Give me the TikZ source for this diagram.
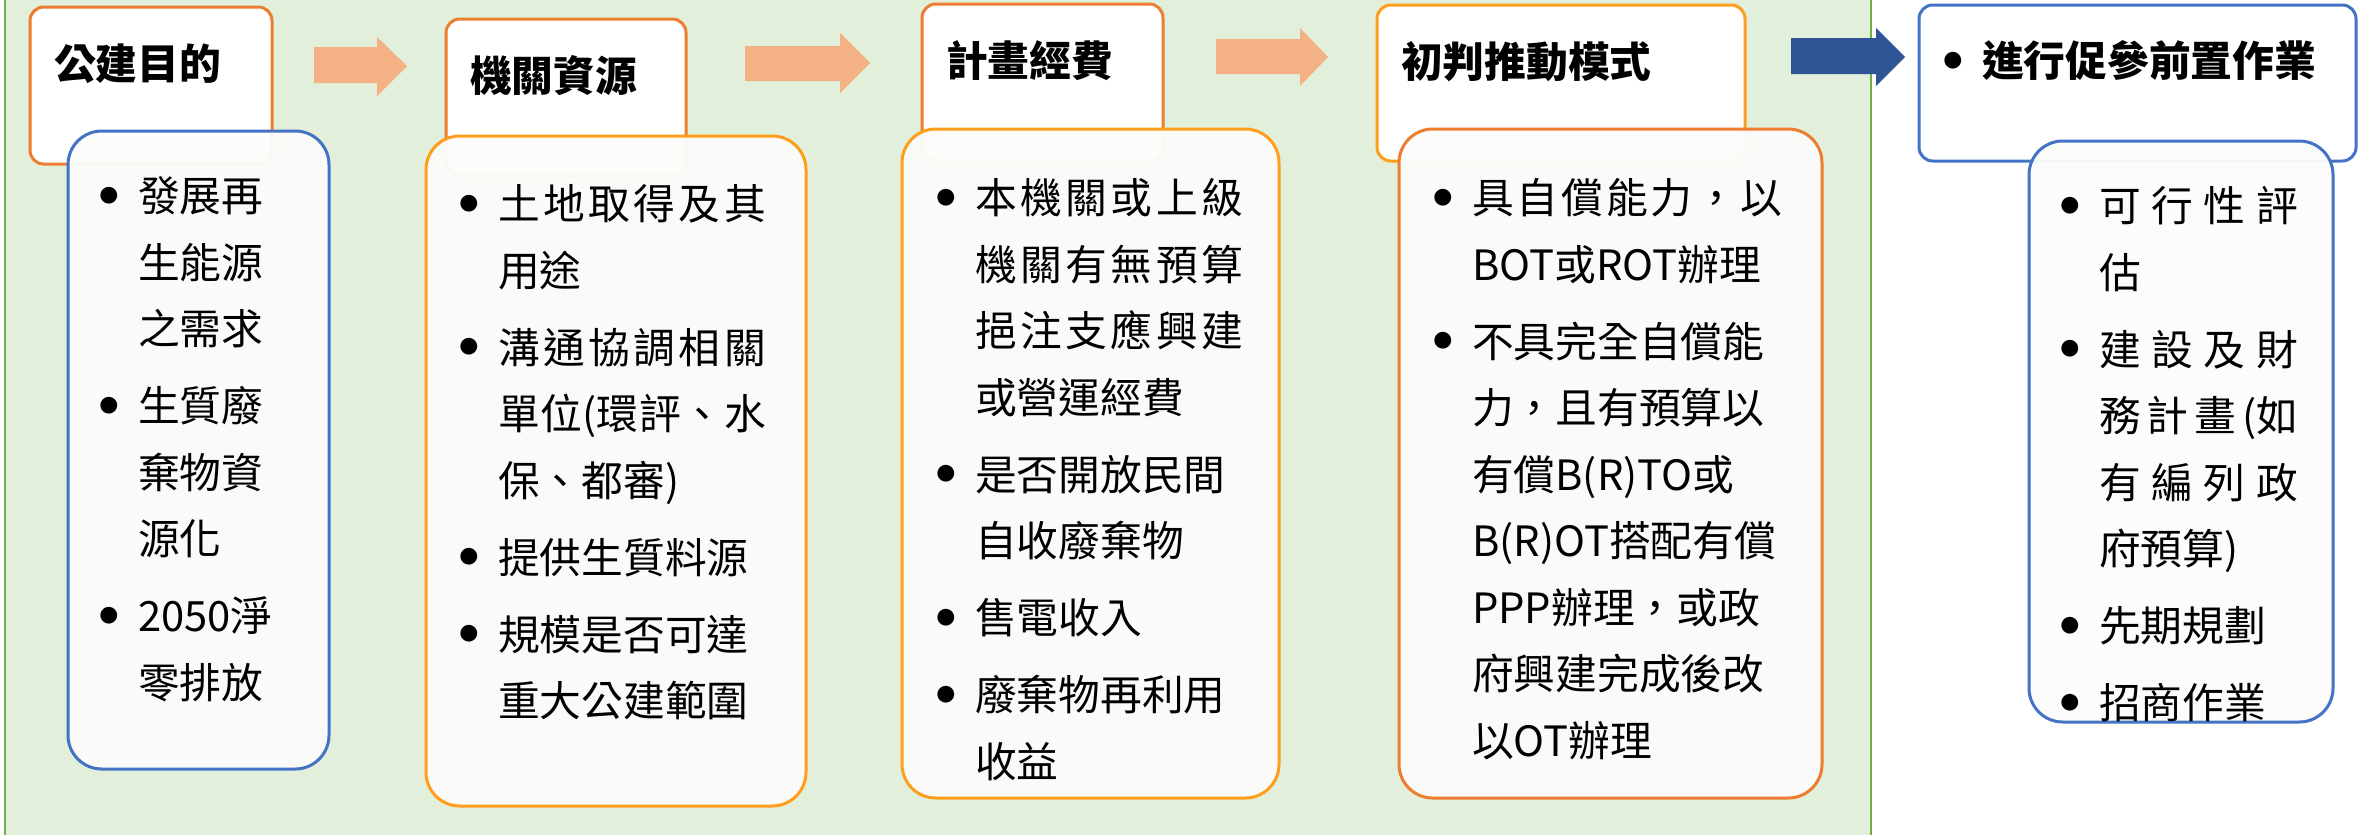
\documentclass[tikz,border=0pt]{standalone}
\usepackage{fontspec}
\setmainfont{Noto Sans CJK TC}
\usetikzlibrary{positioning, fit}

\definecolor{bggreen}{HTML}{E2EFDA}
\definecolor{bgline}{HTML}{70AD47}
\definecolor{orgA}{HTML}{ED7D31}
\definecolor{orgB}{HTML}{FF9D1C}
\definecolor{blueln}{HTML}{4472C4}
\definecolor{salmon}{HTML}{F4B183}
\definecolor{navy}{HTML}{2F5597}
\definecolor{paper}{HTML}{FCFCFB}

\newlength\bulw \setlength\bulw{16pt}
\setlength\parindent{0pt}
\newcommand\dotb{\raisebox{2.2pt}{$\bullet$}}
\newcommand\itm[1]{\noindent\hangindent=\bulw\hangafter=1\relax\rule{0pt}{1em}\makebox[\bulw][l]{\dotb}#1\par\vspace{4.2pt}}
% spread one line to a fixed width
\newcommand\spr[2]{\makebox[#1][s]{#2}}

\tikzset{
  hdr/.style={draw=#1, line width=1.2pt, fill=white, rounded corners=5.5pt, inner sep=0pt},
  bodybox/.style={draw=#1, line width=1.2pt, fill=paper, fill opacity=0.96, rounded corners=13.5pt, inner sep=0pt},
  hdrtext/.style={anchor=west, inner sep=0pt, font=\fontsize{16.7pt}{20pt}\selectfont\bfseries},
  bodytext/.style={anchor=north west, inner sep=0pt, text width=160pt, font=\fontsize{16.7pt}{26.6pt}\selectfont}
}

\begin{document}
\begin{tikzpicture}[x=0.4pt, y=-0.4pt]
    \useasboundingbox (0,0) rectangle (2359,834);

    % green panel
    \fill[bggreen] (5,-10) rectangle (1871,850);
    \draw[bgline, line width=1pt] (5,-10) -- (5,850) (1871,-10) -- (1871,850);

    % header boxes
    \node[hdr=orgA,   fit={(30,7) (272,164)}]     (h1) {};
    \node[hdr=orgA,   fit={(446,19) (686,176)}]   (h2) {};
    \node[hdr=orgA,   fit={(922,4) (1163,161)}]   (h3) {};
    \node[hdr=orgB,   fit={(1377,5) (1745,161)}]  (h4) {};
    \node[hdr=blueln, fit={(1919,5) (2356,161)}]  (h5) {};

    % block arrows
    \fill[salmon] (314,47) -- (377,47) -- (377,37) -- (407,66) -- (377,96) -- (377,83) -- (314,83) -- cycle;
    \fill[salmon] (745,46) -- (840,46) -- (840,33) -- (870,63) -- (840,93) -- (840,81) -- (745,81) -- cycle;
    \fill[salmon] (1216,39) -- (1300,39) -- (1300,28) -- (1328,57) -- (1300,86) -- (1300,74) -- (1216,74) -- cycle;
    \fill[navy] (1791,38) -- (1876,38) -- (1876,28) -- (1905,57) -- (1876,86) -- (1876,74) -- (1791,74) -- cycle;

    % body boxes
    \node[bodybox=blueln, fit={(68,131) (329,769)}]    (b1) {};
    \node[bodybox=orgB,   fit={(426,136) (806,806)}]   (b2) {};
    \node[bodybox=orgB,   fit={(902,129) (1279,798)}]  (b3) {};
    \node[bodybox=orgA,   fit={(1399,129) (1822,798)}] (b4) {};
    \node[bodybox=blueln, fit={(2029,141) (2333,722)}] (b5) {};

    % titles
    \node[hdrtext] (t1) at ([shift={(25,58)}]h1.north west) {公建目的};
    \node[hdrtext] (t2) at ([shift={(25,58)}]h2.north west) {機關資源};
    \node[hdrtext] (t3) at ([shift={(25,58)}]h3.north west) {計畫經費};
    \node[hdrtext] (t4) at ([shift={(25,58)}]h4.north west) {初判推動模式};
    \node[hdrtext] (t5) at ([shift={(24,57)}]h5.north west) {\makebox[\bulw][l]{\dotb}進行促參前置作業};

    % lists
    \node[bodytext] (l1) at ([shift={(31,40)}]b1.north west)
        {\itm{發展再\newline 生能源\newline 之需求}\itm{生質廢\newline 棄物資\newline 源化}\itm{2050淨\newline 零排放}};
    \node[bodytext] (l2) at ([shift={(33,43)}]b2.north west)
        {\itm{\spr{107.2pt}{土\hfil 地\hfil 取\hfil 得\hfil 及\hfil 其}\newline 用途}%
         \itm{\spr{107.2pt}{溝\hfil 通\hfil 協\hfil 調\hfil 相\hfil 關}\newline \spr{107.2pt}{單\hfil 位(環\hfil 評\hfil 、\hfil 水}\newline 保、都審)}%
         \itm{提供生質料源}\itm{規模是否可達\newline 重大公建範圍}};
    \node[bodytext] (l3) at ([shift={(34,44)}]b3.north west)
        {\itm{\spr{107.2pt}{本\hfil 機\hfil 關\hfil 或\hfil 上\hfil 級}\newline \spr{107.2pt}{機\hfil 關\hfil 有\hfil 無\hfil 預\hfil 算}\newline \spr{107.2pt}{挹\hfil 注\hfil 支\hfil 應\hfil 興\hfil 建}\newline 或營運經費}%
         \itm{是否開放民間\newline 自收廢棄物}\itm{售電收入}\itm{廢棄物再利用\newline 收益}};
    \node[bodytext] (l4) at ([shift={(34,44)}]b4.north west)
        {\itm{\spr{124pt}{具\hfil 自\hfil 償\hfil 能\hfil 力\hfil ，\hfil 以}\newline BOT或ROT辦理}%
         \itm{不具完全自償能\newline 力，且有預算以\newline 有償B(R)TO或\newline B(R)OT搭配有償\newline PPP辦理，或政\newline 府興建完成後改\newline 以OT辦理}};
    \node[bodytext] (l5) at ([shift={(31,40)}]b5.north west)
        {\itm{\spr{79.6pt}{可\hfil 行\hfil 性\hfil 評}\newline 估}%
         \itm{\spr{79.6pt}{建\hfil 設\hfil 及\hfil 財}\newline \spr{79.6pt}{務\hfil 計\hfil 畫\hfil (如}\newline \spr{79.6pt}{有\hfil 編\hfil 列\hfil 政}\newline 府預算)}%
         \itm{先期規劃}\itm{招商作業}};
\end{tikzpicture}
\end{document}
